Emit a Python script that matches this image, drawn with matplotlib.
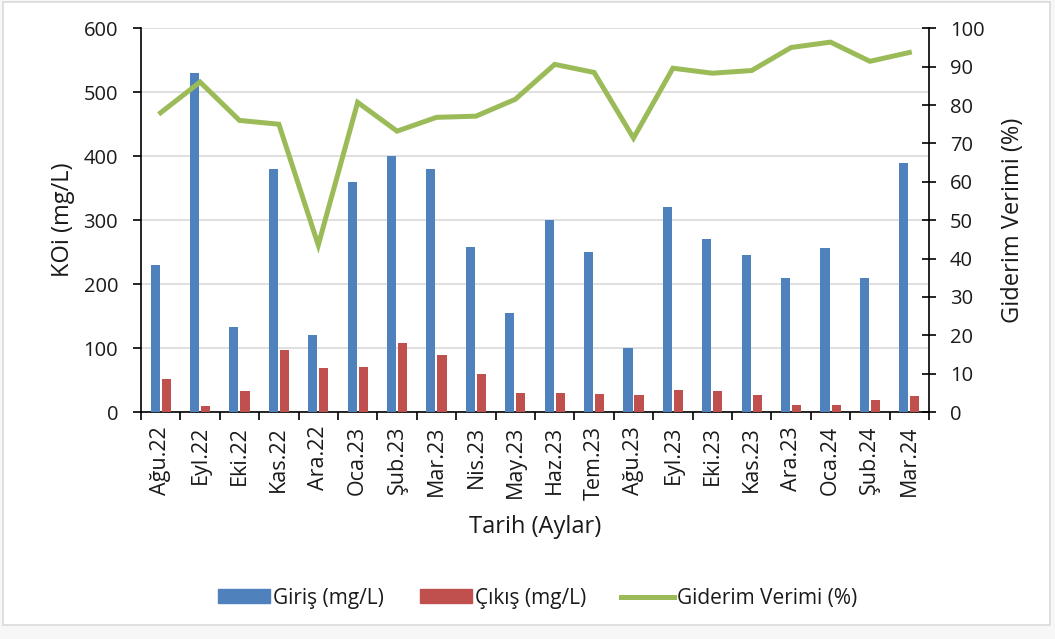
import matplotlib
matplotlib.use("Agg")
import matplotlib.pyplot as plt
import numpy as np
from matplotlib.patches import Rectangle, Patch
from matplotlib.lines import Line2D

months = ["Ağu.22", "Eyl.22", "Eki.22", "Kas.22", "Ara.22", "Oca.23", "Şub.23",
          "Mar.23", "Nis.23", "May.23", "Haz.23", "Tem.23", "Ağu.23", "Eyl.23",
          "Eki.23", "Kas.23", "Ara.23", "Oca.24", "Şub.24", "Mar.24"]
giris = [230, 530, 133, 380, 120, 360, 400, 380, 258, 155, 300, 250, 100, 320,
         270, 245, 210, 256, 210, 390]
cikis = [51, 9, 33, 97, 69, 70, 108, 89, 59, 30, 30, 28, 27, 34, 33, 27, 11, 11, 19, 25]
verim = [78, 86, 76, 75, 43.5, 80.7, 73.2, 76.8, 77.1, 81.5, 90.6, 88.5, 71.4,
         89.6, 88.3, 89, 95, 96.4, 91.4, 93.7]

blue = "#4F81BD"
red = "#C0504D"
green = "#9BBB59"
FONT = "Open Sans"
plt.rcParams['font.family'] = [FONT, 'DejaVu Sans']
TXT = "#1a1a1a"

fig = plt.figure(figsize=(10.55, 6.39), dpi=100)
fig.patches.append(Rectangle((0.003, 0.022), 0.992, 0.975, transform=fig.transFigure,
                             facecolor="white", edgecolor="#D9D9D9", lw=1.2, zorder=-10))
fig.patch.set_facecolor("#F7F7F7")

ax = fig.add_axes([0.1336, 0.3552, 0.747, 0.6005])
x = np.arange(len(months))
w = 0.23
ax.bar(x - 0.14, giris, width=w, color=blue, zorder=3)
ax.bar(x + 0.14, cikis, width=w, color=red, zorder=3)
ax.set_xlim(-0.5, len(months) - 0.5)
ax.set_ylim(0, 600)
ax.set_yticks(range(0, 601, 100))
ax.yaxis.grid(True, color="#D9D9D9", lw=1.2, zorder=0)
ax.set_axisbelow(True)
ax.set_xticks(x)
ax.set_xticklabels(months, rotation=90, fontsize=15.5, color=TXT)
ax.set_xticks(np.arange(-0.5, len(months), 1), minor=True)
ax.tick_params(axis="x", which="major", length=0, pad=10)
ax.tick_params(axis="x", which="minor", length=5.5, width=1.2, direction="out")
ax.tick_params(axis="y", labelsize=14.5, labelcolor=TXT, length=5.5, width=1.2,
               direction="out", pad=11)
for s in ["top", "right"]:
    ax.spines[s].set_visible(False)
ax.spines["left"].set_linewidth(1.2)
ax.spines["bottom"].set_linewidth(1.2)
ax.set_ylabel("KOi (mg/L)", fontsize=17, labelpad=6, color=TXT)
ax.set_xlabel("Tarih (Aylar)", fontsize=17, labelpad=11, color=TXT)
ax.patch.set_alpha(0)

ax2 = ax.twinx()
ax2.plot(x, verim, color=green, lw=3.6, solid_joinstyle="miter", zorder=4)
ax2.set_ylim(0, 100)
ax2.set_yticks(range(0, 101, 10))
ax2.tick_params(axis="y", labelsize=14.5, labelcolor=TXT, length=10, width=1.2,
                direction="inout", pad=10)
for s in ["top", "left", "bottom"]:
    ax2.spines[s].set_visible(False)
ax2.spines["right"].set_linewidth(1.2)
ax2.set_ylabel("Giderim Verimi (%)", fontsize=17, labelpad=12, color=TXT)

handles = [Patch(color=blue), Patch(color=red), Line2D([], [], color=green, lw=3.6)]
labels = ["Giriş (mg/L)", "Çıkış (mg/L)", "Giderim Verimi (%)"]
fig.legend(handles, labels, loc="center", bbox_to_anchor=(0.5095, 0.064), ncol=3,
           frameon=False, fontsize=15, handlelength=2.5, handleheight=0.63,
           columnspacing=1.7, handletextpad=0.15, labelcolor=TXT)

fig.savefig("out.png", dpi=100, facecolor=fig.get_facecolor())
